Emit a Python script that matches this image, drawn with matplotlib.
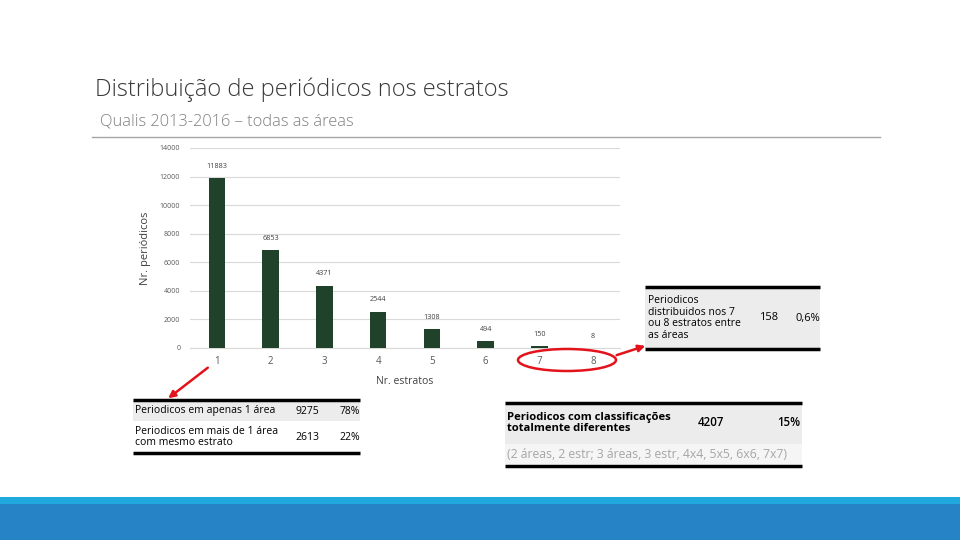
import matplotlib
matplotlib.use("Agg")
import matplotlib.pyplot as plt
from matplotlib.patches import Rectangle, Ellipse, FancyArrowPatch

# ---- data ----
categories = [1, 2, 3, 4, 5, 6, 7, 8]
values = [11883, 6853, 4371, 2544, 1308, 494, 150, 8]
yticks = [0, 2000, 4000, 6000, 8000, 10000, 12000, 14000]

title = "Distribuição de periódicos nos estratos"
subtitle = "Qualis 2013-2016 – todas as áreas"
xlabel = "Nr. estratos"
ylabel = "Nr. periódicos"

t1_labels = ["Periodicos em apenas 1 área", "Periodicos em mais de 1 área\ncom mesmo estrato"]
t1_counts = ["9275", "2613"]
t1_pcts = ["78%", "22%"]

t2_label = "Periodicos\ndistribuidos nos 7\nou 8 estratos entre\nas áreas"
t2_count = "158"
t2_pct = "0,6%"

t3_label = "Periodicos com classificações\ntotalmente diferentes"
t3_count = "4207"
t3_pct = "15%"
t3_note = "(2 áreas, 2 estr; 3 áreas, 3 estr, 4x4, 5x5, 6x6, 7x7)"

plt.rcParams['font.family'] = ['Open Sans', 'DejaVu Sans']

W, H = 960, 540
fig = plt.figure(figsize=(9.6, 5.4), dpi=100)
fig.patch.set_facecolor("white")

# ---- chart axes ----
L, R, T, B = 190, 620, 148, 348
ax = fig.add_axes([L / W, (H - B) / H, (R - L) / W, (B - T) / H])
bar_color = "#21422a"
ax.bar(categories, values, width=0.31, color=bar_color, zorder=3)
ax.set_xlim(0.5, 8.5)
ax.set_ylim(0, 14000)
ax.set_yticks(yticks)
ax.set_yticklabels([str(v) for v in yticks], fontsize=5, color="#595959")
ax.set_xticks(categories)
ax.set_xticklabels([str(c) for c in categories], fontsize=7, color="#595959")
ax.tick_params(axis="both", length=0)
ax.tick_params(axis="y", pad=7)
ax.tick_params(axis="x", pad=6)
ax.grid(axis="y", color="#d9d9d9", linewidth=0.8, zorder=0)
for s in ["top", "right", "left"]:
    ax.spines[s].set_visible(False)
ax.spines["bottom"].set_color("#d9d9d9")
ax.set_xlabel(xlabel, fontsize=7.5, color="#404040", labelpad=6)
ax.set_ylabel(ylabel, fontsize=8, color="#404040")
ax.yaxis.set_label_coords(-0.091, 0.5)
for c, v in zip(categories, values):
    ax.annotate(str(v), (c, v), xytext=(0, 6), textcoords="offset points",
                ha="center", va="bottom", fontsize=5.2, color="#404040")

# ---- overlay in pixel coordinates ----
ov = fig.add_axes([0, 0, 1, 1], zorder=5)
ov.set_xlim(0, W)
ov.set_ylim(H, 0)
ov.axis("off")
ov.patch.set_alpha(0)

ov.text(95, 90, title, fontsize=17, color="#3a3a3a", ha="left", va="center",
        fontweight="light")
ov.text(100, 121, subtitle, fontsize=11.8, color="#7f7f7f", ha="left", va="center",
        fontweight="light")
ov.plot([92, 880], [136.5, 136.5], color="#a6a6a6", linewidth=1)

# bottom bands
ov.add_patch(Rectangle((0, 497), W, 7, color="#1fa9de", lw=0))
ov.add_patch(Rectangle((0, 504), W, 36, color="#2683c6", lw=0))

# table 1
ov.add_patch(Rectangle((133, 401), 227, 20, color="#ececec", lw=0))
ov.plot([133, 360], [399.5, 399.5], color="black", lw=2.5, solid_capstyle="butt")
ov.plot([133, 360], [453, 453], color="black", lw=2.5, solid_capstyle="butt")
ov.text(135, 411, t1_labels[0], fontsize=7.5, color="black", va="center")
ov.text(135, 437, t1_labels[1], fontsize=7.5, color="black", va="center", linespacing=1.0)
for y, c, p in zip([411, 438], t1_counts, t1_pcts):
    ov.text(307, y, c, fontsize=7.5, ha="center", va="center")
    ov.text(360, y, p, fontsize=7.5, ha="right", va="center")

# table 2
ov.add_patch(Rectangle((645, 288), 175, 60, color="#ececec", lw=0))
ov.plot([645, 820], [286.5, 286.5], color="black", lw=2.5, solid_capstyle="butt")
ov.plot([645, 820], [349, 349], color="black", lw=2.5, solid_capstyle="butt")
ov.text(648, 318, t2_label, fontsize=7.5, va="center", linespacing=1.05)
ov.text(769, 318, t2_count, fontsize=8, ha="center", va="center")
ov.text(820, 318, t2_pct, fontsize=8, ha="right", va="center")

# table 3
ov.add_patch(Rectangle((505, 404), 297, 40, color="#ececec", lw=0))
ov.add_patch(Rectangle((505, 444), 297, 20, color="#f5f5f5", lw=0))
ov.plot([505, 802], [402.5, 402.5], color="black", lw=2.5, solid_capstyle="butt")
ov.plot([505, 802], [465.5, 465.5], color="black", lw=2.5, solid_capstyle="butt")
ov.text(507, 423, t3_label, fontsize=8.1, fontweight="bold", va="center", linespacing=1.05)
ov.text(711, 423, t3_count, fontsize=8.3, fontweight="semibold", ha="center", va="center")
ov.text(800, 423, t3_pct, fontsize=8.3, fontweight="semibold", ha="right", va="center")
ov.text(507, 455, t3_note, fontsize=8.8, color="#a6a6a6", va="center")

# red annotations
ov.add_patch(Ellipse((567, 360), 98, 22, fill=False, edgecolor="#e3121b", lw=1.8))
ov.add_patch(FancyArrowPatch((614, 356), (648, 345), arrowstyle="-|>",
                             mutation_scale=10, color="#e3121b", lw=1.8))
ov.add_patch(FancyArrowPatch((210, 366), (166, 400), arrowstyle="-|>",
                             mutation_scale=10, color="#e3121b", lw=1.8))

fig.savefig("out.png", dpi=100, facecolor="white")
